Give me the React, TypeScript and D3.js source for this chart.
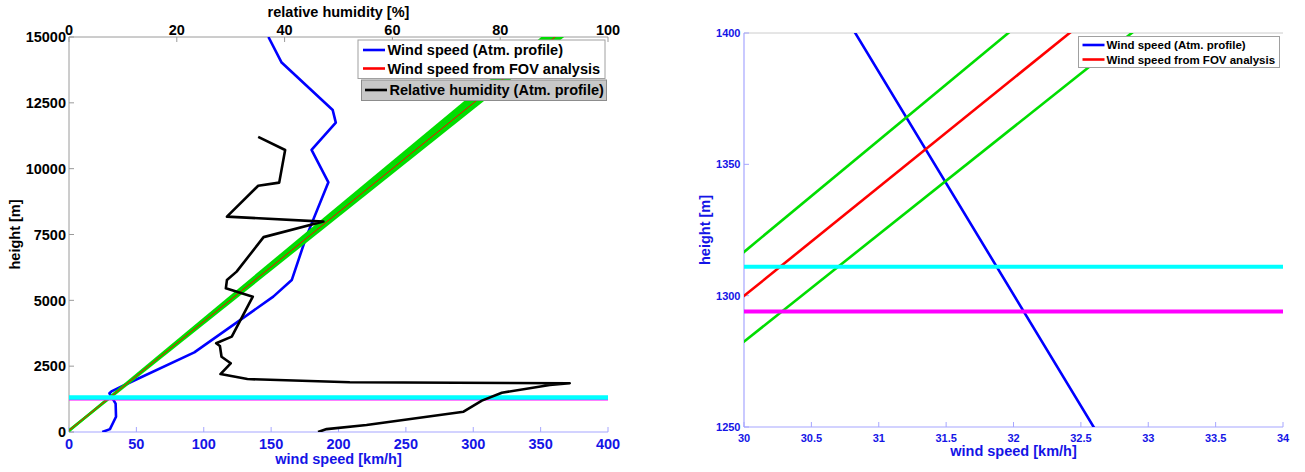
import React from 'react';
import * as d3 from 'd3';

// ---------- data ----------
// Wind speed profile (Atm. profile): speed [km/h] vs height [m]
const windSpeeds = [24.7, 30.4, 34.9, 34.6, 30.0, 31.5, 44, 93, 151.6, 165.3, 176, 192.5, 180, 198, 195.7, 157.8, 148];
const windHeights = [0, 110, 580, 1080, 1470, 1540, 1850, 3025, 5140, 5770, 7400, 9480, 10710, 11750, 12230, 14030, 15000];

// Relative humidity profile: rh [%] vs height [m]
const rhValues = [46.2, 47.8, 55.2, 73.2, 76.6, 80.3, 89.2, 92.9, 52.1, 33.1, 28.1, 30.0, 28.3, 28.0, 27.3, 30.2, 34.1, 29.1, 29.3, 31.1, 36.1, 47.2, 29.3, 35.1, 39.0, 40.1, 35.1];
const rhHeights = [0, 110, 265, 770, 1190, 1490, 1785, 1850, 1890, 2010, 2200, 2610, 2860, 3265, 3370, 3620, 5140, 5455, 5770, 6090, 7400, 7990, 8180, 9350, 9470, 10710, 11210];

// Wind speed from FOV analysis (+ bounds)
const fovSpeeds = [0, 370];
const fovHeights = [57, 15386];
const fovUpperHeights = [41.7, 15766];
const fovLowerHeights = [57.3, 15168];

// horizontal reference heights
const cyanHeight = 1311;
const magentaHeight = 1294;

// ticks
const heightTicks = [0, 2500, 5000, 7500, 10000, 12500, 15000];
const speedTicks = [0, 50, 100, 150, 200, 250, 300, 350, 400];
const rhTicks = [0, 20, 40, 60, 80, 100];
const zoomHeightTicks = [1250, 1300, 1350, 1400];
const zoomSpeedTicks = [30, 30.5, 31, 31.5, 32, 32.5, 33, 33.5, 34];

const FONT = '"Liberation Sans", Arial, Helvetica, sans-serif';
const BLUE = '#0000ff';
const RED = '#ff0000';
const GREEN = '#00dd00';
const CYAN = '#00ffff';
const MAGENTA = '#ff00ff';
const TXTBLUE = '#1414e6';
const AXBLUE = '#a6a6ff';
const AXGRAY = '#9a9a9a';

type P = [number, number];
const zip = (a: number[], b: number[]): P[] => a.map((v, i) => [v, b[i]]);

export default function App() {
  // left plot
  const L = { x0: 69, x1: 608, y0: 432, y1: 37 };
  const xL = d3.scaleLinear().domain([0, 400]).range([L.x0, L.x1]);
  const yL = d3.scaleLinear().domain([0, 15000]).range([L.y0, L.y1]);
  const xRH = d3.scaleLinear().domain([0, 100]).range([L.x0, L.x1]);
  // right plot
  const R = { x0: 744, x1: 1283, y0: 427, y1: 33 };
  const xR = d3.scaleLinear().domain([30, 34]).range([R.x0, R.x1]);
  const yR = d3.scaleLinear().domain([1250, 1400]).range([R.y0, R.y1]);

  const lineL = d3.line<P>().x(d => xL(d[0])).y(d => yL(d[1]));
  const lineRH = d3.line<P>().x(d => xRH(d[0])).y(d => yL(d[1]));
  const lineR = d3.line<P>().x(d => xR(d[0])).y(d => yR(d[1]));

  const wind = zip(windSpeeds, windHeights);
  const rh = zip(rhValues, rhHeights);
  const fov = zip(fovSpeeds, fovHeights);
  const fovUp = zip(fovSpeeds, fovUpperHeights);
  const fovLo = zip(fovSpeeds, fovLowerHeights);

  const band = d3.area<number>()
    .x(i => xL(fovSpeeds[i]))
    .y0(i => yL(fovLowerHeights[i]))
    .y1(i => yL(fovUpperHeights[i]));

  const bold = { fontFamily: FONT, fontWeight: 700 } as const;

  return (
    <svg width={1305} height={472} style={{ position: 'absolute', left: 0, top: 0, background: '#fff' }}>
      <defs>
        <clipPath id="clipL"><rect x={L.x0} y={L.y1} width={L.x1 - L.x0} height={L.y0 - L.y1} /></clipPath>
        <clipPath id="clipR"><rect x={R.x0} y={R.y1} width={R.x1 - R.x0} height={R.y0 - R.y1} /></clipPath>
      </defs>

      {/* ================= LEFT PLOT ================= */}
      <line x1={L.x0} x2={L.x1} y1={L.y1} y2={L.y1} stroke={AXGRAY} strokeWidth={1} />
      <line x1={L.x0} x2={L.x0} y1={L.y0} y2={L.y1} stroke={AXGRAY} strokeWidth={1} />
      <line x1={L.x0} x2={L.x1} y1={L.y0} y2={L.y0} stroke={AXBLUE} strokeWidth={1.2} />
      {heightTicks.map(t => (
        <line key={'hl' + t} x1={L.x0} x2={L.x0 + 5} y1={yL(t)} y2={yL(t)} stroke={AXGRAY} />
      ))}
      {speedTicks.map(t => (
        <line key={'sl' + t} x1={xL(t)} x2={xL(t)} y1={L.y0} y2={L.y0 - 5} stroke={AXBLUE} />
      ))}
      {rhTicks.map(t => (
        <line key={'rl' + t} x1={xRH(t)} x2={xRH(t)} y1={L.y1} y2={L.y1 + 5} stroke={AXGRAY} />
      ))}

      <g clipPath="url(#clipL)">
        <path d={lineL(wind) || ''} fill="none" stroke={BLUE} strokeWidth={2.6} strokeLinejoin="round" />
        <path d={band([0, 1]) || ''} fill={GREEN} stroke="none" />
        <path d={lineL(fovUp) || ''} fill="none" stroke={GREEN} strokeWidth={2.6} />
        <path d={lineL(fovLo) || ''} fill="none" stroke={GREEN} strokeWidth={2.6} />
        <path d={lineL(fov) || ''} fill="none" stroke={RED} strokeWidth={1} />
        <line x1={xL(0)} x2={xL(400)} y1={yL(magentaHeight) + 1} y2={yL(magentaHeight) + 1} stroke={MAGENTA} strokeWidth={3} />
        <line x1={xL(0)} x2={xL(400)} y1={yL(cyanHeight)} y2={yL(cyanHeight)} stroke={CYAN} strokeWidth={4.5} />
        <path d={lineRH(rh) || ''} fill="none" stroke="#000" strokeWidth={2.6} strokeLinejoin="round" />
      </g>

      {heightTicks.map(t => (
        <text key={'hlt' + t} x={L.x0 - 3} y={yL(t) + 5.3} textAnchor="end" fontSize={14.5} fill="#000" {...bold}>{t}</text>
      ))}
      {speedTicks.map(t => (
        <text key={'slt' + t} x={xL(t)} y={448.5} textAnchor="middle" fontSize={14.5} fill={TXTBLUE} {...bold}>{t}</text>
      ))}
      {rhTicks.map(t => (
        <text key={'rlt' + t} x={xRH(t)} y={35} textAnchor="middle" fontSize={14.5} fill="#000" {...bold}>{t}</text>
      ))}
      <text x={338.5} y={16.5} textAnchor="middle" fontSize={14.5} fill="#000" {...bold}>relative humidity [%]</text>
      <text x={338.5} y={463.5} textAnchor="middle" fontSize={14.5} fill={TXTBLUE} {...bold}>wind speed [km/h]</text>
      <text transform={`translate(20,${(L.y0 + L.y1) / 2}) rotate(-90)`} textAnchor="middle" fontSize={14.5} fill="#000" {...bold}>height [m]</text>

      <rect x={358} y={40} width={247} height={38.5} fill="#fff" stroke="#a0a0a0" strokeWidth={1} />
      <line x1={363} x2={385} y1={50} y2={50} stroke={BLUE} strokeWidth={2.6} />
      <text x={387.5} y={55} fontSize={14.5} fill="#000" {...bold}>Wind speed (Atm. profile)</text>
      <line x1={363} x2={385} y1={68.5} y2={68.5} stroke={RED} strokeWidth={2.6} />
      <text x={387.5} y={73.5} fontSize={14.5} fill="#000" {...bold}>Wind speed from FOV analysis</text>

      <rect x={361.5} y={80} width={245} height={20.5} fill="#c8c8c8" stroke="#8c8c8c" strokeWidth={1} />
      <line x1={365} x2={387} y1={90} y2={90} stroke="#000" strokeWidth={2.6} />
      <text x={389.5} y={95} fontSize={14.5} fill="#000" {...bold}>Relative humidity (Atm. profile)</text>

      {/* ================= RIGHT PLOT ================= */}
      <line x1={R.x0} x2={R.x1} y1={R.y1} y2={R.y1} stroke="#cccccc" strokeWidth={1} />
      <line x1={R.x0} x2={R.x0} y1={R.y0} y2={R.y1} stroke={AXBLUE} strokeWidth={1.2} />
      <line x1={R.x0} x2={R.x1} y1={R.y0} y2={R.y0} stroke={AXBLUE} strokeWidth={1.2} />
      {zoomHeightTicks.map(t => (
        <line key={'hr' + t} x1={R.x0} x2={R.x0 + 5} y1={yR(t)} y2={yR(t)} stroke={AXBLUE} />
      ))}
      {zoomSpeedTicks.map(t => (
        <line key={'sr' + t} x1={xR(t)} x2={xR(t)} y1={R.y0} y2={R.y0 - 5} stroke={AXBLUE} />
      ))}

      <g clipPath="url(#clipR)">
        <path d={lineR(wind) || ''} fill="none" stroke={BLUE} strokeWidth={2.6} />
        <path d={lineR(fov) || ''} fill="none" stroke={RED} strokeWidth={2.6} />
        <path d={lineR(fovUp) || ''} fill="none" stroke={GREEN} strokeWidth={2.6} />
        <path d={lineR(fovLo) || ''} fill="none" stroke={GREEN} strokeWidth={2.6} />
        <line x1={xR(30)} x2={xR(34)} y1={yR(cyanHeight)} y2={yR(cyanHeight)} stroke={CYAN} strokeWidth={4} />
        <line x1={xR(30)} x2={xR(34)} y1={yR(magentaHeight)} y2={yR(magentaHeight)} stroke={MAGENTA} strokeWidth={4} />
      </g>

      {zoomHeightTicks.map(t => (
        <text key={'hrt' + t} x={R.x0 - 3.5} y={yR(t) + 4} textAnchor="end" fontSize={11} fill={TXTBLUE} {...bold}>{t}</text>
      ))}
      {zoomSpeedTicks.map(t => (
        <text key={'srt' + t} x={xR(t)} y={441.5} textAnchor="middle" fontSize={11} fill={TXTBLUE} {...bold}>{t}</text>
      ))}
      <text x={1013.5} y={456} textAnchor="middle" fontSize={14.5} fill={TXTBLUE} {...bold}>wind speed [km/h]</text>
      <text transform={`translate(710,${(R.y0 + R.y1) / 2}) rotate(-90)`} textAnchor="middle" fontSize={14.5} fill={TXTBLUE} {...bold}>height [m]</text>

      <rect x={1078.5} y={36.5} width={201} height={31} fill="#fff" stroke="#a0a0a0" strokeWidth={1} />
      <line x1={1082.5} x2={1104.5} y1={45} y2={45} stroke={BLUE} strokeWidth={2.6} />
      <text x={1106.5} y={49} fontSize={11.5} fill="#000" {...bold}>Wind speed (Atm. profile)</text>
      <line x1={1082.5} x2={1104.5} y1={59.5} y2={59.5} stroke={RED} strokeWidth={2.6} />
      <text x={1106.5} y={63.5} fontSize={11.5} fill="#000" {...bold}>Wind speed from FOV analysis</text>
    </svg>
  );
}
